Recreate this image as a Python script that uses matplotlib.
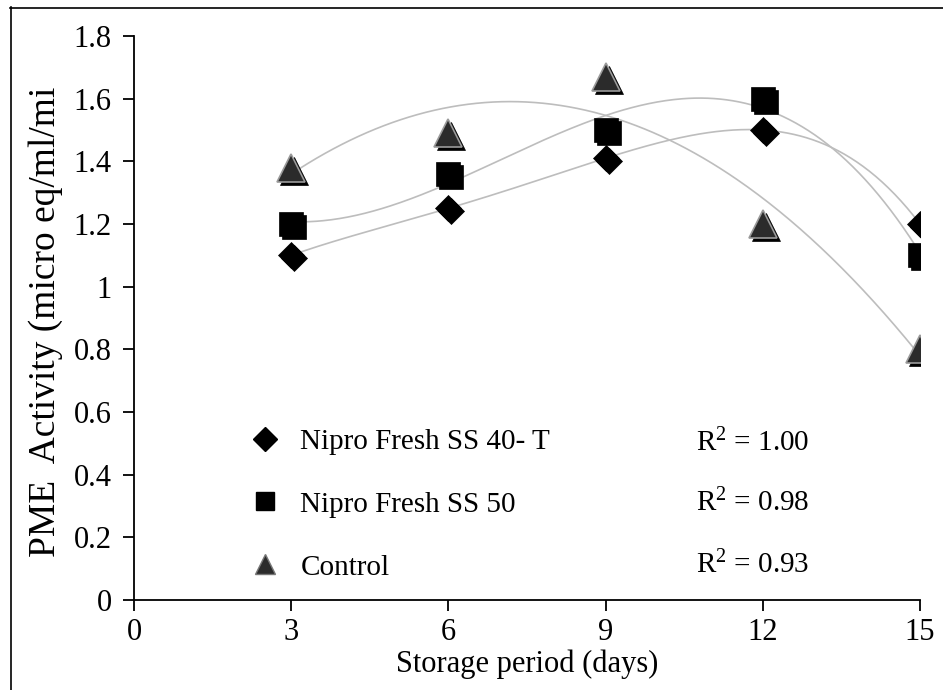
import numpy as np
import matplotlib
matplotlib.use("Agg")
import matplotlib.pyplot as plt
from matplotlib.lines import Line2D
from matplotlib import transforms

plt.rcParams['font.family'] = ['Liberation Serif', 'DejaVu Serif']
plt.rcParams['mathtext.fontset'] = 'custom'
plt.rcParams['mathtext.rm'] = 'Liberation Serif'
plt.rcParams['mathtext.it'] = 'Liberation Serif'
plt.rcParams['mathtext.bf'] = 'Liberation Serif'

days = [3, 6, 9, 12, 15]
ss40t = [1.10, 1.25, 1.41, 1.50, 1.20]
ss50 = [1.20, 1.36, 1.50, 1.60, 1.10]
control = [1.38, 1.49, 1.67, 1.20, 0.80]

series_names = ["Nipro Fresh SS 40- T", "Nipro Fresh SS 50", "Control"]
r2_labels = ["R$^{2}$ = 1.00", "R$^{2}$ = 0.98", "R$^{2}$ = 0.93"]
poly_degrees = [4, 3, 2]
xticks = [0, 3, 6, 9, 12, 15]
yticks = [0, 0.2, 0.4, 0.6, 0.8, 1, 1.2, 1.4, 1.6, 1.8]
ytick_labels = ["0", "0.2", "0.4", "0.6", "0.8", "1", "1.2", "1.4", "1.6", "1.8"]

W, H = 943, 690
fig = plt.figure(figsize=(W / 100, H / 100), dpi=100)
ax = fig.add_axes([134 / W, 90 / H, (920 - 134) / W, (600 - 36) / H])

# frame around figure (left & top visible)
fig.add_artist(Line2D([10.5 / W, 10.5 / W], [0, 1 - 7 / H], transform=fig.transFigure,
                      color='black', lw=1.2))
fig.add_artist(Line2D([10 / W, 1], [1 - 7.5 / H, 1 - 7.5 / H], transform=fig.transFigure,
                      color='black', lw=1.2))

xs = np.array(days, dtype=float)
xfit = np.linspace(3, 15, 300)
for ys, deg in zip([ss40t, ss50, control], poly_degrees):
    c = np.polyfit(xs, np.array(ys), deg)
    ax.plot(xfit, np.polyval(c, xfit), color='#bdbdbd', lw=1.2, zorder=1)

shadow = transforms.offset_copy(ax.transData, fig=fig, x=3, y=-3, units='dots')
styles = [
    dict(marker='D', ms=13.5, mfc='black', mec='black', mew=0.5),
    dict(marker='s', ms=17, mfc='black', mec='black', mew=0.5),
    dict(marker='^', ms=20, mfc='#2b2b2b', mec='#9a9a9a', mew=1.2),
]
for ys, st in zip([ss40t, ss50, control], styles):
    ax.plot(days, ys, linestyle='none', marker=st['marker'], ms=st['ms'],
            mfc='black', mec='black', mew=0.5, transform=shadow, zorder=2)
    ax.plot(days, ys, linestyle='none', zorder=3, **st)

ax.set_xlim(0, 15)
ax.set_ylim(0, 1.8)
ax.set_xticks(xticks)
ax.set_yticks(yticks)
ax.set_yticklabels(ytick_labels)
for s in ['top', 'right']:
    ax.spines[s].set_visible(False)
for s in ['left', 'bottom']:
    ax.spines[s].set_linewidth(1.3)
ax.tick_params(axis='both', direction='out', length=8, width=1.3, labelsize=22)
ax.tick_params(axis='y', pad=8)
ax.tick_params(axis='x', pad=5)

ax.set_xlabel("Storage period (days)", fontsize=22, labelpad=2)
fig.text(46 / W, 1 - 322 / H, "PME  Activity (micro eq/ml/mi", rotation=90,
         fontsize=27, ha='center', va='center')

handles = [
    Line2D([], [], linestyle='none', marker='D', ms=12, mfc='black', mec='black'),
    Line2D([], [], linestyle='none', marker='s', ms=13, mfc='black', mec='black'),
    Line2D([], [], linestyle='none', marker='^', ms=15, mfc='#2b2b2b', mec='#777777'),
]
ax.legend(handles, series_names, loc='upper left', bbox_to_anchor=(0.13, 0.325),
          frameon=False, fontsize=21, labelspacing=1.25, handletextpad=0.6,
          handlelength=1.2, borderaxespad=0)

for lab, yv in zip(r2_labels, [0.50, 0.31, 0.11]):
    ax.text(10.72, yv, lab, fontsize=21, va='center', ha='left')

fig.savefig("out.png", dpi=100)
